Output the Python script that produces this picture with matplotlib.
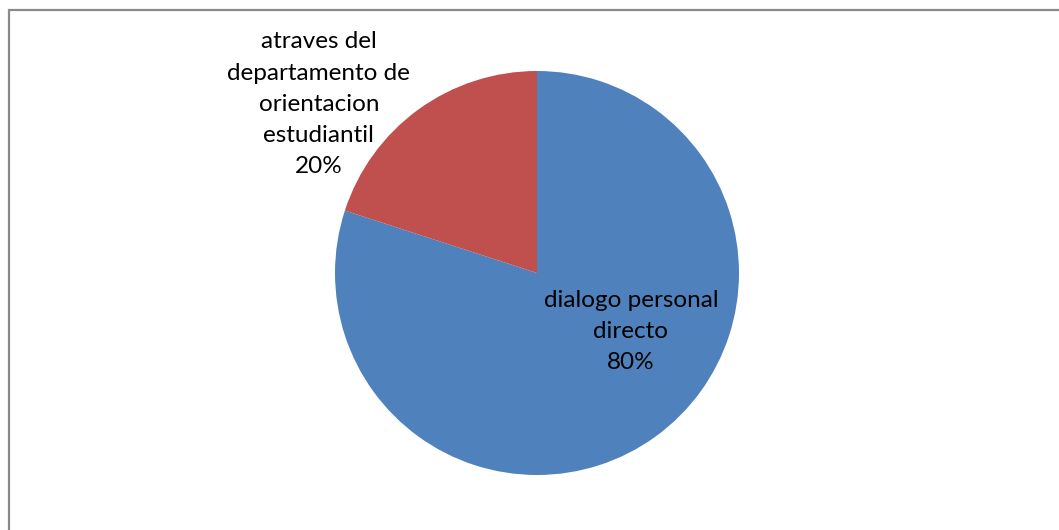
import matplotlib.pyplot as plt
from matplotlib.patches import Rectangle

# Pie data
categories = ["dialogo personal\ndirecto", "atraves del\ndepartamento de\norientacion\nestudiantil"]
shares = [80, 20]
colors = ["#4F81BD", "#C0504D"]

plt.rcParams['font.family'] = ['Lato', 'DejaVu Sans']

W, H = 1059, 530
fig = plt.figure(figsize=(W / 100, H / 100), dpi=100)

# pie placed at centre (537, 273) px, radius ~202 px
cx, cy, r = 537, 273, 202
ax = fig.add_axes([(cx - r) / W, (H - cy - r) / H, 2 * r / W, 2 * r / H])
wedges, _ = ax.pie(shares, colors=colors, startangle=90, counterclock=False,
                   radius=1, wedgeprops=dict(linewidth=0))
ax.set_xlim(-1, 1)
ax.set_ylim(-1, 1)
ax.set_aspect('equal')
ax.axis('off')

# data labels
label_pos = [(0.465, -0.29), (-1.08, 0.835)]
for cat, val, (lx, ly) in zip(categories, shares, label_pos):
    ax.text(lx, ly, f"{cat}\n{val}%", ha='center', va='center', fontsize=17.5,
            linespacing=1.6, color='black', clip_on=False)

# chart area border
fig.patches.append(Rectangle((8.5 / W, -0.1), 1.0, (H - 9.5) / H + 0.1,
                             transform=fig.transFigure, fill=False,
                             edgecolor='#8a8a8a', linewidth=1.6))

fig.savefig("out.png", dpi=100)
